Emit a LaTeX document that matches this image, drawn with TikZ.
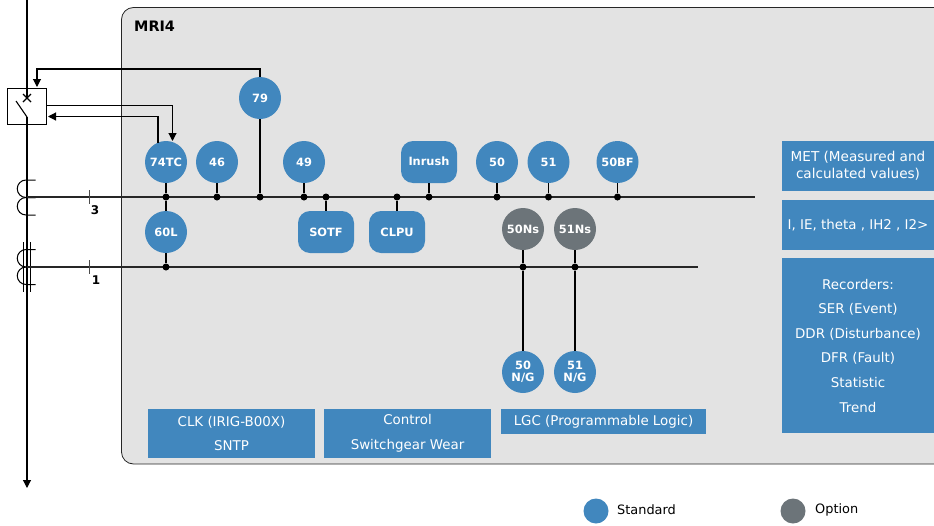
\documentclass[tikz,border=0pt]{standalone}
\usepackage{fontspec}
\setmainfont{DejaVu Sans}
\usetikzlibrary{arrows.meta}
\definecolor{stdblue}{HTML}{4187BE}
\definecolor{optgrey}{HTML}{6C7479}
\definecolor{panelgrey}{HTML}{E3E3E3}
\tikzset{
	fn/.style={circle,fill=stdblue,text=white,inner sep=0pt,minimum size=42pt,align=center,font=\fontsize{11.4}{12}\selectfont\bfseries},
	fnopt/.style={fn,fill=optgrey},
	fnround/.style={fn,rectangle,rounded corners=12pt,minimum width=56pt,minimum height=42pt},
	infobox/.style={fill=stdblue,text=white,inner sep=0pt,align=center,font=\fontsize{13.4}{24.6}\selectfont},
	wire/.style={line width=1.1pt},
	bus/.style={line width=1.3pt,draw=black!85},
	dot/.style={circle,fill=black,inner sep=0pt,minimum size=7pt},
	tip/.style={-{Triangle[length=8pt,width=8pt]}},
	lbl/.style={inner sep=0pt,font=\fontsize{12}{12}\selectfont\bfseries},
	coil/.style={line width=1pt},
}
\begin{document}
\begin{tikzpicture}[x=1pt,y=-1pt]
	\useasboundingbox (0,0) rectangle (934,525);

	% panel
	\draw[fill=panelgrey,draw=black!85,line width=0.8pt,rounded corners=12pt] (960,7.5) -- (121.5,7.5) -- (121.5,464) -- (960,464);
	\node[lbl,anchor=west,font=\fontsize{14.4}{14.4}\selectfont\bfseries] (mri) at (134,26) {MRI4};

	% breaker
	\node[draw,line width=1pt,minimum width=38.5pt,minimum height=36pt,inner sep=0pt] (cb) at (27.2,106) {};
	\coordinate (feedtop) at (27,0);
	\coordinate (feedin) at (27,98);
	\coordinate (bladetop) at (16,101);
	\coordinate (bladeend) at (27,117);
	\coordinate (feedend) at (27,488);
	\draw[wire] (feedtop) -- (feedin);
	\draw[wire] (bladetop) -- (bladeend);
	\draw[wire,tip] (bladeend) -- (feedend);
	\draw[wire] (23,94) -- (31,102) (31,94) -- (23,102);

	% current transformers
	\draw[coil] (35.5,180) -- (26,180) arc[start angle=90,end angle=270,radius=8.75pt] -- (35.5,197.5);
	\draw[coil] (35.5,197.5) -- (26,197.5) arc[start angle=90,end angle=270,radius=8.75pt] -- (35.5,215);
	\draw[coil] (35.5,249.5) -- (26,249.5) arc[start angle=90,end angle=270,radius=8.75pt] -- (35.5,267);
	\draw[coil] (35.5,267) -- (26,267) arc[start angle=90,end angle=270,radius=8.75pt] -- (35.5,284.5);
	\draw[line width=0.7pt] (23.5,242) -- (23.5,292);
	\draw[line width=0.7pt] (30.5,242) -- (30.5,292);

	% busbars
	\coordinate (bus3l) at (27,197);
	\coordinate (bus3r) at (755,197);
	\coordinate (bus1l) at (27,267);
	\coordinate (bus1r) at (698,267);
	\draw[bus] (bus3l) -- (bus3r);
	\draw[bus] (bus1l) -- (bus1r);
	\draw[line width=0.8pt,black!70] (89,190) -- (89,204);
	\draw[line width=0.8pt,black!70] (89,260) -- (89,274);
	\node[lbl] (n3) at (95,210) {3};
	\node[lbl] (n1) at (96,280) {1};

	% functions
	\node[fn] (f74) at (166,162) {74TC};
	\node[fn] (f46) at (217,162) {46};
	\node[fn] (f79) at (260,98) {79};
	\node[fn] (f49) at (304,162) {49};
	\node[fnround] (inrush) at (429,162) {\raisebox{1pt}{Inrush}};
	\node[fn] (f50) at (497,162) {50};
	\node[fn] (f51) at (548.5,162) {51};
	\node[fn] (f50bf) at (617.5,162) {50BF};
	\node[fn] (f60) at (166,232) {60L};
	\node[fnround] (sotf) at (326,232) {SOTF};
	\node[fnround] (clpu) at (397,232) {CLPU};
	\node[fnopt] (f50ns) at (523,229) {50Ns};
	\node[fnopt] (f51ns) at (575,229) {51Ns};
	\node[fn] (f50ng) at (523,372) {50\\N/G};
	\node[fn] (f51ng) at (575,372) {51\\N/G};

	% junctions
	\node[dot] (j74) at (166,197) {};
	\node[dot] (j46) at (217,197) {};
	\node[dot] (j79) at (260,197) {};
	\node[dot] (j49) at (304,197) {};
	\node[dot] (jsotf) at (326,197) {};
	\node[dot] (jclpu) at (397,197) {};
	\node[dot] (jinrush) at (429,197) {};
	\node[dot] (j50) at (497,197) {};
	\node[dot] (j51) at (548.5,197) {};
	\node[dot] (j50bf) at (617.5,197) {};
	\node[dot] (j60) at (166,267) {};
	\node[dot] (j50ns) at (523,267) {};
	\node[dot] (j51ns) at (575,267) {};

	\draw[wire] (f74) -- (j74);
	\draw[wire] (f46) -- (j46);
	\draw[wire] (f79) -- (j79);
	\draw[wire] (f49) -- (j49);
	\draw[wire] (sotf) -- (jsotf);
	\draw[wire] (clpu) -- (jclpu);
	\draw[wire] (inrush) -- (jinrush);
	\draw[wire] (f50) -- (j50);
	\draw[wire] (f51) -- (j51);
	\draw[wire] (f50bf) -- (j50bf);
	\draw[wire] (j74) -- (f60);
	\draw[wire] (f60) -- (j60);
	\draw[wire] (f50ns) -- (j50ns);
	\draw[wire] (f51ns) -- (j51ns);
	\draw[wire] (j50ns) -- (f50ng);
	\draw[wire] (j51ns) -- (f51ng);

	% trip and reclose paths
	\coordinate (cbtop) at (37,87);
	\coordinate (cbout) at (47,105.5);
	\coordinate (cbin) at (48,116.5);
	\coordinate (f74in) at (172.5,141);
	\coordinate (f74out) at (158,142.5);
	\draw[wire,tip] (f79.north) -- (260,69) -- (37,69) -- (cbtop);
	\draw[wire,tip] (cbout) -- (172.5,105.5) -- (f74in);
	\draw[wire,tip] (f74out) -- (158,116.5) -- (cbin);

	% info boxes
	\node[infobox,minimum width=167pt,minimum height=49pt] (clk) at (231.5,433.5) {CLK (IRIG-B00X)\\SNTP};
	\node[infobox,minimum width=167pt,minimum height=49pt] (ctrl) at (407.5,433.5) {Control\\Switchgear Wear};
	\node[infobox,minimum width=205pt,minimum height=25pt] (lgc) at (603.5,421.5) {LGC (Programmable Logic)};
	\node[infobox,minimum width=152pt,minimum height=50pt,font=\fontsize{13.6}{17}\selectfont] (met) at (858,166) {MET (Measured and\\calculated values)};
	\node[infobox,minimum width=152pt,minimum height=50pt] (vals) at (858,225) {I, IE, theta , IH2 , I2>};
	\node[infobox,minimum width=152pt,minimum height=175pt] (rec) at (858,345.5) {Recorders:\\SER (Event)\\DDR (Disturbance)\\DFR (Fault)\\Statistic\\Trend};

	% legend
	\node[circle,fill=stdblue,inner sep=0pt,minimum size=25pt] (keystd) at (596,511) {};
	\node[circle,fill=optgrey,inner sep=0pt,minimum size=25pt] (keyopt) at (793,511) {};
	\node[anchor=west,inner sep=0pt,font=\fontsize{12.9}{12.9}\selectfont] (txtstd) at (617,510) {Standard};
	\node[anchor=west,inner sep=0pt,font=\fontsize{12.9}{12.9}\selectfont] (txtopt) at (815,510) {Option};
\end{tikzpicture}
\end{document}
